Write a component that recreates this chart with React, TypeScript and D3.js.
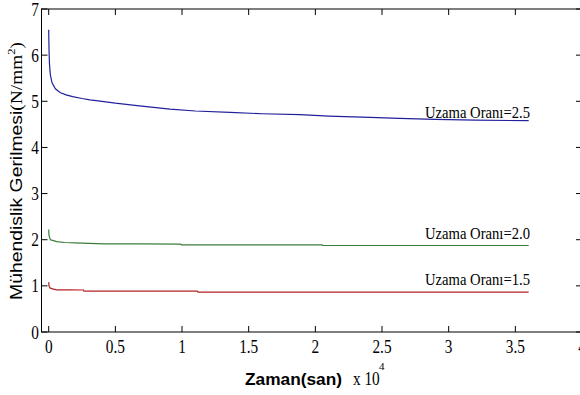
import React from "react";
import * as d3 from "d3";

// time in units of 1e4 s, stress in N/mm^2
const blueT = [0, 0.001, 0.003, 0.006, 0.012, 0.025, 0.05, 0.085, 0.13, 0.18, 0.25, 0.31, 0.4, 0.5, 0.68, 0.91, 1.1, 1.36, 1.6, 1.885, 2.1, 2.41, 2.63, 2.9, 3.2, 3.6];
const blueV = [6.55, 6.35, 6.05, 5.8, 5.58, 5.4, 5.27, 5.19, 5.14, 5.1, 5.06, 5.03, 5.0, 4.96, 4.9, 4.83, 4.79, 4.76, 4.73, 4.71, 4.68, 4.65, 4.63, 4.61, 4.59, 4.58];
const greenT = [0, 0.002, 0.012, 0.03, 0.06, 0.12, 0.2, 0.3, 0.42, 0.7, 0.99, 0.995, 1.5, 2.05, 2.055, 3.6];
const greenV = [2.22, 2.1, 2.0, 1.985, 1.96, 1.94, 1.93, 1.92, 1.91, 1.91, 1.905, 1.89, 1.89, 1.89, 1.875, 1.875];
const redT = [0, 0.002, 0.012, 0.03, 0.06, 0.15, 0.26, 0.265, 0.6, 1.115, 1.12, 3.6];
const redV = [1.08, 1.0, 0.95, 0.935, 0.915, 0.913, 0.91, 0.885, 0.885, 0.885, 0.865, 0.865];

const seriesNames = ["Uzama Oranı=2.5", "Uzama Oranı=2.0", "Uzama Oranı=1.5"];
const seriesColors = ["#20209a", "#3a7d3a", "#b42222"];
const xTicks = [0, 0.5, 1, 1.5, 2, 2.5, 3, 3.5, 4];
const yTicks = [0, 1, 2, 3, 4, 5, 6, 7];

const W = 580, H = 395;
const SERIF = "Liberation Serif, Times New Roman, serif";
const SANS = "Liberation Sans, Arial, sans-serif";

export default function App() {
  const x = d3.scaleLinear().domain([-0.054, 4]).range([41.5, 582]);
  const y = d3.scaleLinear().domain([0, 7]).range([332, 9]);
  const line = d3.line<[number, number]>().x(d => x(d[0])).y(d => y(d[1]));
  const series = [
    blueT.map((t, i) => [t, blueV[i]] as [number, number]),
    greenT.map((t, i) => [t, greenV[i]] as [number, number]),
    redT.map((t, i) => [t, redV[i]] as [number, number]),
  ];
  const [x0, x1] = x.range();
  const [yb, yt] = y.range();
  const labelBase = [118, 238.5, 285];
  return (
    <svg width={W} height={H} style={{ position: "absolute", left: 0, top: 0, background: "#fff" }}>
      <rect x={0} y={0} width={W} height={H} fill="#fff" />
      {series.map((s, i) => (
        <path key={i} d={line(s) || ""} fill="none" stroke={seriesColors[i]} strokeWidth={1.2} />
      ))}
      {/* axes box */}
      <rect x={x0} y={yt} width={x1 - x0} height={yb - yt} fill="none" stroke="#000" strokeWidth={1} />
      {xTicks.map(t => (
        <g key={"xt" + t}>
          <line x1={x(t)} x2={x(t)} y1={yb} y2={yb - 6} stroke="#000" />
          <line x1={x(t)} x2={x(t)} y1={yt} y2={yt + 6} stroke="#000" />
          <text transform={`translate(${x(t)},353) scale(0.85,1)`} textAnchor="middle" fontFamily={SERIF} fontSize={18} fill="#000">{String(t)}</text>
        </g>
      ))}
      {yTicks.map(t => (
        <g key={"yt" + t}>
          <line x1={x0} x2={x0 + 6} y1={y(t)} y2={y(t)} stroke="#000" />
          <line x1={x1} x2={x1 - 6} y1={y(t)} y2={y(t)} stroke="#000" />
          <text transform={`translate(39,${y(t) + 6.5}) scale(0.85,1)`} textAnchor="end" fontFamily={SERIF} fontSize={18} fill="#000">{String(t)}</text>
        </g>
      ))}
      {seriesNames.map((n, i) => (
        <text key={n} x={425} y={labelBase[i]} textLength={105} lengthAdjust="spacingAndGlyphs" fontFamily={SERIF} fontSize={17} fill="#000">{n}</text>
      ))}
      {/* x label */}
      <text x={245} y={385} textLength={97} lengthAdjust="spacingAndGlyphs" fontFamily={SANS} fontWeight="bold" fontSize={17} fill="#000">Zaman(san)</text>
      <text x={353} y={385} fontFamily={SERIF} fontSize={18} fill="#000" transform="translate(353,0) scale(0.85,1) translate(-353,0)">x 10</text>
      <text x={379} y={370} fontFamily={SERIF} fontSize={11} fill="#000">4</text>
      {/* y label */}
      <text transform="translate(22,171) rotate(-90)" textAnchor="middle" fill="#000" fontSize={17} textLength={258} lengthAdjust="spacingAndGlyphs">
        <tspan fontFamily={SANS}>Mühendislik Gerilmesi</tspan>
        <tspan fontFamily={SERIF}>(N/mm</tspan>
        <tspan fontFamily={SERIF} fontSize={11} dy={-7}>2</tspan>
        <tspan fontFamily={SERIF} dy={7}>)</tspan>
      </text>
    </svg>
  );
}
